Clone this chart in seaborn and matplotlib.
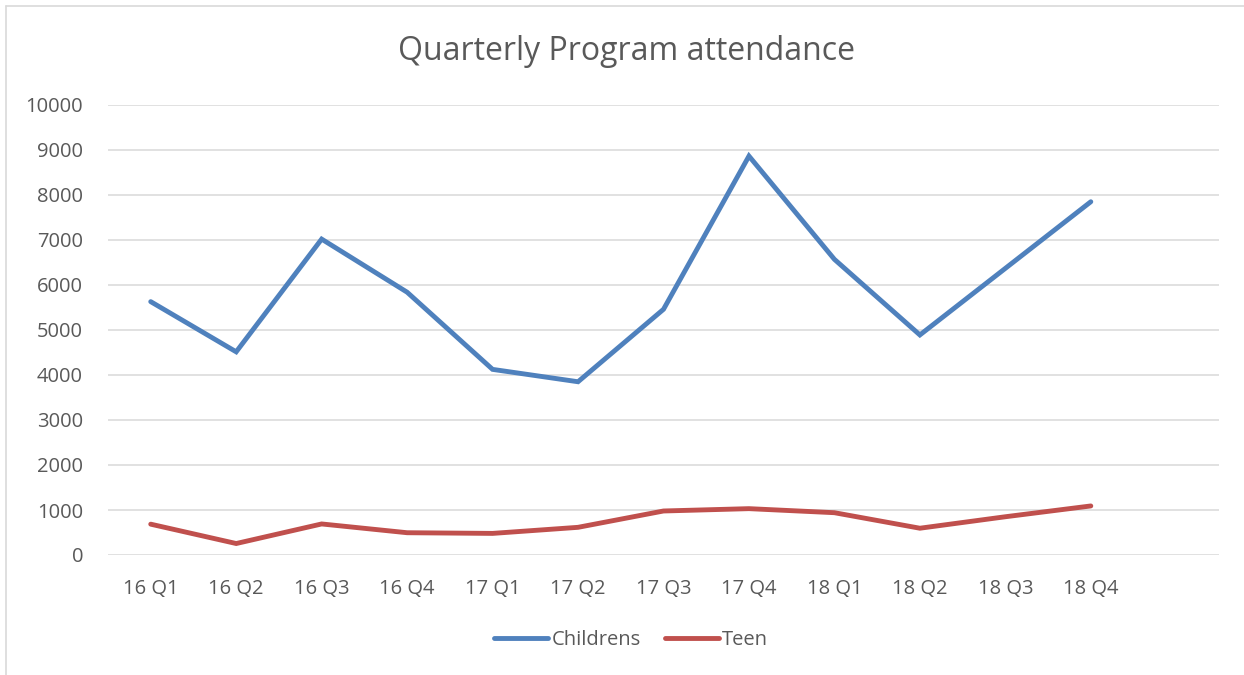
import matplotlib
matplotlib.use("Agg")
import matplotlib.pyplot as plt
from matplotlib.lines import Line2D
import seaborn as sns
import pandas as pd

quarters = ["16 Q1", "16 Q2", "16 Q3", "16 Q4", "17 Q1", "17 Q2",
            "17 Q3", "17 Q4", "18 Q1", "18 Q2", "18 Q3", "18 Q4"]
childrens = [5630, 4515, 7020, 5840, 4125, 3850, 5460, 8865, 6570, 4890, 6370, 7850]
teen = [685, 255, 690, 495, 480, 615, 978, 1030, 940, 595, 850, 1090]
series_names = ["Childrens", "Teen"]
colors = ["#4F81BD", "#C0504D"]

df = pd.DataFrame({
    "Quarter": quarters * 2,
    "Attendance": childrens + teen,
    "Series": [series_names[0]] * len(quarters) + [series_names[1]] * len(quarters),
})

sns.set_theme(style="white")
plt.rcParams["font.family"] = ["Open Sans", "DejaVu Sans"]

fig = plt.figure(figsize=(12.44, 6.75), dpi=100)
ax = fig.add_axes([108 / 1244, 1 - 555 / 675, (1219 - 108) / 1244, 450 / 675])

sns.lineplot(data=df, x="Quarter", y="Attendance", hue="Series",
             palette=colors, linewidth=3.5, ax=ax, sort=False,
             solid_joinstyle="miter", solid_capstyle="round")

ax.set_xlim(-0.5, 12.5)
ax.set_ylim(0, 10000)
ax.set_yticks(range(0, 10001, 1000))
ax.set_xticks(range(len(quarters)))
ax.set_xticklabels(quarters)
ax.grid(axis="y", color="#D9D9D9", linewidth=1.1)
ax.grid(axis="x", visible=False)
ax.set_axisbelow(True)
for s in ax.spines.values():
    s.set_visible(False)
ax.tick_params(axis="both", length=0, labelsize=14.5, colors="#595959")
ax.tick_params(axis="x", pad=17)
ax.tick_params(axis="y", pad=18)
ax.set_xlabel("")
ax.set_ylabel("")

ax.legend_.remove()
handles = [Line2D([0], [0], color=c, linewidth=3.5, solid_capstyle="round") for c in colors]
leg = fig.legend(handles, series_names, loc="center", bbox_to_anchor=(631 / 1244, 1 - 640 / 675),
                 ncol=2, frameon=False, fontsize=14.5, handlelength=2.7, handletextpad=0.15,
                 columnspacing=1.2)
for t in leg.get_texts():
    t.set_color("#595959")

fig.text(627 / 1244, 1 - 52 / 675, "Quarterly Program attendance", ha="center", va="center",
         fontsize=23, color="#595959")

fig.add_artist(Line2D([6 / 1244, 6 / 1244], [0, 1 - 6 / 675], transform=fig.transFigure,
                      color="#D9D9D9", linewidth=1.2))
fig.add_artist(Line2D([6 / 1244, 1], [1 - 6 / 675, 1 - 6 / 675], transform=fig.transFigure,
                      color="#D9D9D9", linewidth=1.2))

fig.savefig("out.png", dpi=100, facecolor="white")
